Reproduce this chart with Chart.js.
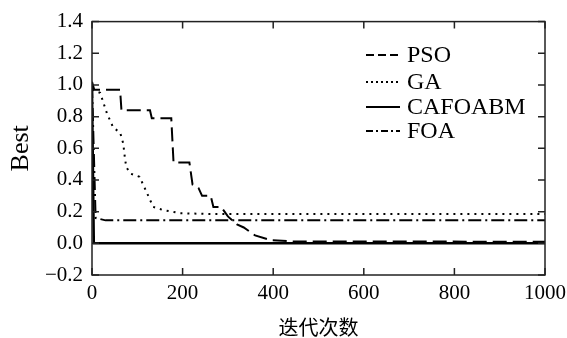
<!DOCTYPE html>
<html>
<head>
<meta charset="utf-8">
<script src="https://cdn.jsdelivr.net/npm/chart.js@4/dist/chart.umd.min.js"></script>
<style>
  body { margin: 0; background: #fff; }
  #wrap { width: 567px; height: 338px; }
</style>
</head>
<body>
<div id="wrap"><canvas id="c"></canvas></div>
<script>
// values
var psoIter = [0, 5, 62, 65, 128, 132, 175, 180, 215, 222, 235, 243, 262, 268, 285, 300, 320, 335, 360, 395, 445, 1000];
var psoBest = [1.02, 0.97, 0.97, 0.84, 0.84, 0.79, 0.79, 0.51, 0.51, 0.37, 0.35, 0.30, 0.30, 0.23, 0.23, 0.17, 0.12, 0.10, 0.05, 0.02, 0.012, 0.01];

var gaIter = [0, 18, 33, 47, 62, 69, 73, 76, 85, 105, 121, 135, 157, 195, 260, 1000];
var gaBest = [0.97, 0.95, 0.82, 0.73, 0.70, 0.63, 0.53, 0.48, 0.44, 0.42, 0.32, 0.23, 0.21, 0.19, 0.185, 0.185];

var cafoIter = [0, 4, 1000];
var cafoBest = [0.97, 0.0, 0.0];

var foaIter = [0, 8, 30, 1000];
var foaBest = [1.0, 0.16, 0.145, 0.145];

var seriesNames = ['PSO', 'GA', 'CAFOABM', 'FOA'];
var xTicks = { min: 0, max: 1000, step: 200 };
var yTicks = { min: -0.2, max: 1.4, step: 0.2 };

function pts(xs, ys) {
  var out = [];
  for (var i = 0; i < xs.length; i++) {
    out.push({ x: xs[i], y: ys[i] });
  }
  return out;
}

var serif = '"Liberation Serif", "Times New Roman", serif';

// frame with inward ticks on all four sides
var framePlugin = {
  id: 'frame',
  afterDraw: function (chart) {
    var ctx = chart.ctx;
    var a = chart.chartArea;
    var xs = chart.scales.x, ys = chart.scales.y;
    var len = 7;
    ctx.save();
    ctx.strokeStyle = '#222';
    ctx.lineWidth = 1.5;
    ctx.strokeRect(a.left, a.top, a.right - a.left, a.bottom - a.top);
    ctx.beginPath();
    xs.ticks.forEach(function (t) {
      var px = xs.getPixelForValue(t.value);
      ctx.moveTo(px, a.bottom); ctx.lineTo(px, a.bottom - len);
      ctx.moveTo(px, a.top); ctx.lineTo(px, a.top + len);
    });
    ys.ticks.forEach(function (t) {
      var py = ys.getPixelForValue(t.value);
      ctx.moveTo(a.left, py); ctx.lineTo(a.left + len, py);
      ctx.moveTo(a.right, py); ctx.lineTo(a.right - len, py);
    });
    ctx.stroke();
    ctx.restore();
  }
};

// legend with line samples, upper right inside the plot
var legendDash = [[8, 4], [2, 3], [], [7, 3, 2, 3]];
var legendPlugin = {
  id: 'lineLegend',
  afterDraw: function (chart) {
    var ctx = chart.ctx;
    var rows = [55, 82, 107, 131];
    ctx.save();
    chart.data.datasets.forEach(function (ds, i) {
      var y = rows[i];
      ctx.beginPath();
      ctx.setLineDash(legendDash[i]);
      ctx.strokeStyle = '#000';
      ctx.lineWidth = 2;
      ctx.moveTo(366, y);
      ctx.lineTo(400, y);
      ctx.stroke();
      ctx.setLineDash([]);
      ctx.fillStyle = '#000';
      ctx.font = '24px ' + serif;
      ctx.textBaseline = 'middle';
      ctx.textAlign = 'left';
      ctx.fillText(ds.label, 407, y + 1);
    });
    ctx.restore();
  }
};

new Chart(document.getElementById('c'), {
  type: 'line',
  data: {
    datasets: [
      { label: seriesNames[0], data: pts(psoIter, psoBest), borderDash: [14, 6] },
      { label: seriesNames[1], data: pts(gaIter, gaBest), borderDash: [2, 5] },
      { label: seriesNames[2], data: pts(cafoIter, cafoBest), borderWidth: 2.5 },
      { label: seriesNames[3], data: pts(foaIter, foaBest), borderDash: [13, 4, 2, 4] }
    ]
  },
  options: {
    responsive: true,
    maintainAspectRatio: false,
    animation: false,
    layout: { padding: { left: 0, right: 22, top: 21, bottom: 0 } },
    elements: {
      point: { radius: 0 },
      line: { borderColor: '#000', borderWidth: 2, tension: 0, fill: false }
    },
    plugins: { legend: { display: false }, tooltip: { enabled: false } },
    scales: {
      x: {
        type: 'linear',
        min: xTicks.min, max: xTicks.max,
        grid: { display: false, drawTicks: false },
        border: { display: false },
        ticks: {
          stepSize: xTicks.step, padding: 6, color: '#000',
          font: { family: serif, size: 21 },
          callback: function (v) { return String(v); }
        },
        title: {
          display: true, text: '迭代次数', color: '#000',
          font: { family: '"Noto Sans CJK SC", sans-serif', size: 20, lineHeight: 1 },
          padding: { top: 0, bottom: 1 }
        },
        afterFit: function (s) { s.height = 63; s.paddingRight = 0; }
      },
      y: {
        min: yTicks.min, max: yTicks.max,
        grid: { display: false, drawTicks: false },
        border: { display: false },
        ticks: {
          stepSize: yTicks.step, padding: 9, color: '#000',
          font: { family: serif, size: 21 },
          callback: function (v) {
            if (Math.abs(v) < 1e-9) { v = 0; }
            return v.toFixed(1).replace('-', '\u2212');
          }
        },
        title: {
          display: true, text: 'Best', color: '#000',
          font: { family: serif, size: 26, lineHeight: 1.2 },
          padding: { top: 6, bottom: 0 }
        },
        afterFit: function (s) { s.width = 92; }
      }
    }
  },
  plugins: [framePlugin, legendPlugin]
});
</script>
</body>
</html>
